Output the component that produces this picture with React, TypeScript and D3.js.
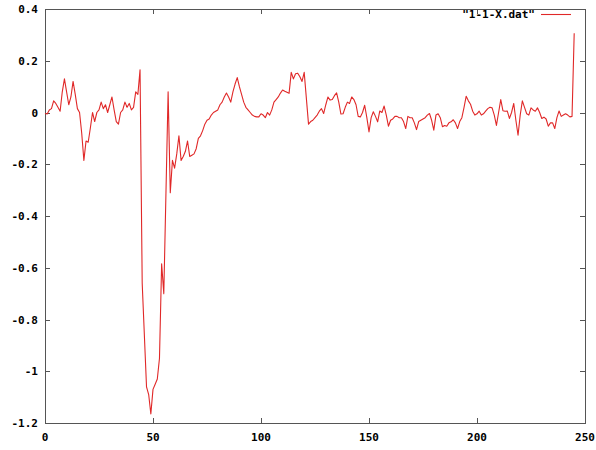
import React, { useEffect, useRef } from "react";
import * as d3 from "d3";

const xValues: number[] = [
  0, 1, 2, 3, 4, 5, 6, 7, 8, 9, 10, 11, 12, 13, 14, 15, 16, 17, 18, 19, 20,
  21, 22, 23, 24, 25, 26, 27, 28, 29, 30, 31, 32, 33, 34, 35, 36, 37, 38, 39, 40,
  41, 42, 43, 44, 45, 47, 48, 49, 50, 51, 52, 53, 54, 55, 57, 58, 59, 60,
  61, 62, 63, 64, 65, 66, 67, 68, 69, 70, 71, 72, 73, 74, 75, 76, 77, 78, 79, 80,
  81, 82, 83, 84, 85, 86, 87, 88, 89, 90, 91, 92, 93, 94, 95, 96, 97, 98, 99, 100,
  101, 102, 103, 104, 105, 106, 107, 108, 109, 110, 111, 112, 113, 114, 115, 116, 117, 118, 119, 120,
  122, 123, 124, 125, 126, 127, 128, 129, 130, 131, 132, 133, 134, 135, 136, 137, 138, 139, 140,
  141, 142, 143, 144, 145, 146, 147, 148, 149, 150, 151, 152, 153, 154, 155, 156, 157, 158, 159, 160,
  161, 162, 163, 164, 165, 166, 167, 168, 169, 170, 171, 172, 173, 174, 175, 176, 177, 178, 179, 180,
  181, 182, 183, 184, 185, 186, 187, 188, 189, 190, 191, 192, 193, 194, 195, 196, 197, 198, 199, 200,
  201, 202, 203, 204, 205, 206, 207, 208, 209, 210, 211, 212, 213, 214, 215, 216, 217, 218, 219, 220,
  221, 222, 223, 224, 225, 226, 227, 228, 229, 230, 231, 232, 233, 234, 235, 236, 237, 238, 239, 240,
  241, 242, 243, 244, 245,
];

const yValues: number[] = [
  -0.004, -0.006, 0.01, 0.015, 0.045, 0.035, 0.02, 0.005, 0.08, 0.13, 0.08, 0.03, 0.06, 0.12, 0.07, 0.015, 0.0, -0.08, -0.185, -0.11, -0.115,
  -0.06, 0.0, -0.035, 0.0, 0.01, 0.04, 0.015, 0.03, 0.0, 0.03, 0.06, 0.01, -0.035, -0.045, 0.0, 0.01, 0.04, 0.02, 0.035, 0.01,
  0.02, 0.08, 0.07, 0.165, -0.66, -1.06, -1.09, -1.165, -1.07, -1.05, -1.03, -0.95, -0.585, -0.7, 0.08, -0.31, -0.185, -0.215,
  -0.16, -0.09, -0.185, -0.17, -0.15, -0.11, -0.17, -0.165, -0.16, -0.14, -0.1, -0.09, -0.07, -0.045, -0.03, -0.025, -0.01, 0.0, 0.005, 0.01,
  0.03, 0.04, 0.06, 0.075, 0.06, 0.04, 0.08, 0.11, 0.135, 0.1, 0.07, 0.04, 0.02, 0.01, 0.0, -0.01, -0.015, -0.017, -0.017, -0.005,
  -0.01, -0.02, 0.0, -0.01, 0.01, 0.04, 0.05, 0.06, 0.075, 0.087, 0.082, 0.078, 0.074, 0.155, 0.13, 0.15, 0.152, 0.138, 0.12, 0.155,
  -0.045, -0.035, -0.03, -0.02, -0.01, 0.005, 0.015, -0.004, 0.03, 0.06, 0.048, 0.05, 0.065, 0.076, 0.04, -0.006, -0.005, 0.02, 0.04,
  0.035, 0.06, 0.05, 0.03, -0.015, -0.017, 0.0, 0.028, -0.02, -0.075, -0.02, 0.003, -0.015, -0.036, 0.006, 0.0, 0.025, -0.01, -0.053, -0.03,
  -0.025, -0.015, -0.015, -0.02, -0.02, -0.035, -0.062, -0.015, -0.02, -0.02, -0.04, -0.066, -0.035, -0.03, -0.025, -0.02, -0.01, -0.004, -0.03, -0.068,
  -0.01, -0.005, -0.02, -0.055, -0.05, -0.053, -0.04, -0.036, -0.028, -0.04, -0.062, -0.035, -0.02, 0.02, 0.063, 0.045, 0.032, 0.005, -0.01, -0.005,
  0.005, -0.01, -0.005, 0.005, 0.015, 0.02, 0.018, -0.01, -0.05, 0.0, 0.05, 0.007, 0.005, 0.006, -0.023, 0.0, 0.035, -0.03, -0.088, -0.01,
  0.045, 0.02, -0.005, -0.01, 0.018, 0.01, 0.005, 0.018, 0.0, -0.023, -0.018, -0.025, -0.053, -0.04, -0.04, -0.062, -0.02, 0.006, -0.015, -0.01,
  -0.005, -0.01, -0.017, -0.015, 0.306,
];

const xTicks: number[] = [0, 50, 100, 150, 200, 250];
const yTicks: number[] = [0.4, 0.2, 0, -0.2, -0.4, -0.6, -0.8, -1, -1.2];
const seriesLabel = '"1-1-X.dat"';

export default function App() {
  const ref = useRef<SVGSVGElement>(null);

  useEffect(() => {
    const svg = d3.select(ref.current);
    svg.selectAll("*").remove();

    const left = 45, right = 585, top = 9, bottom = 423;
    const x = d3.scaleLinear().domain([0, 250]).range([left, right]);
    const y = d3.scaleLinear().domain([-1.2, 0.4]).range([bottom, top]);
    const font = "'DejaVu Sans Mono', monospace";
    const axisColor = "#555";
    const lineColor = "#e02828";
    const tl = 5;

    const g = svg.append("g");

    // ticks (inward, mirrored)
    xTicks.forEach((t) => {
      const px = Math.round(x(t)) + 0.5;
      g.append("line").attr("x1", px).attr("x2", px).attr("y1", bottom).attr("y2", bottom - tl)
        .attr("stroke", axisColor).attr("stroke-width", 1);
      g.append("line").attr("x1", px).attr("x2", px).attr("y1", top).attr("y2", top + tl)
        .attr("stroke", axisColor).attr("stroke-width", 1);
      g.append("text").attr("x", x(t)).attr("y", bottom + 18).attr("text-anchor", "middle")
        .attr("font-family", font).attr("font-size", 11).attr("font-weight", "bold")
        .attr("fill", "#000").text(d3.format("d")(t));
    });
    yTicks.forEach((t) => {
      const py = Math.round(y(t)) + 0.5;
      g.append("line").attr("x1", left).attr("x2", left + tl).attr("y1", py).attr("y2", py)
        .attr("stroke", axisColor).attr("stroke-width", 1);
      g.append("line").attr("x1", right).attr("x2", right - tl).attr("y1", py).attr("y2", py)
        .attr("stroke", axisColor).attr("stroke-width", 1);
      g.append("text").attr("x", left - 7).attr("y", y(t) + 4).attr("text-anchor", "end")
        .attr("font-family", font).attr("font-size", 11).attr("font-weight", "bold")
        .attr("fill", "#000").text(t === 0 ? "0" : String(t));
    });

    // border
    g.append("rect").attr("x", left + 0.5).attr("y", top + 0.5)
      .attr("width", right - left).attr("height", bottom - top)
      .attr("fill", "none").attr("stroke", axisColor).attr("stroke-width", 1);

    // data line
    const pts: [number, number][] = xValues.map((xv, i) => [xv, yValues[i]]);
    const line = d3.line<[number, number]>().x((d) => x(d[0])).y((d) => y(d[1]));
    g.append("path").datum(pts).attr("d", line).attr("fill", "none")
      .attr("stroke", lineColor).attr("stroke-width", 1.1).attr("stroke-linejoin", "round");

    // legend
    g.append("text").attr("x", 535).attr("y", 18).attr("text-anchor", "end")
      .attr("font-family", font).attr("font-size", 11).attr("font-weight", "bold")
      .attr("fill", "#000").text(seriesLabel);
    g.append("line").attr("x1", 541).attr("x2", 571).attr("y1", 14.5).attr("y2", 14.5)
      .attr("stroke", lineColor).attr("stroke-width", 1.1);
  }, []);

  return (
    <svg
      ref={ref}
      width={596}
      height={450}
      style={{ position: "absolute", left: 0, top: 0, background: "#fff" }}
    />
  );
}
